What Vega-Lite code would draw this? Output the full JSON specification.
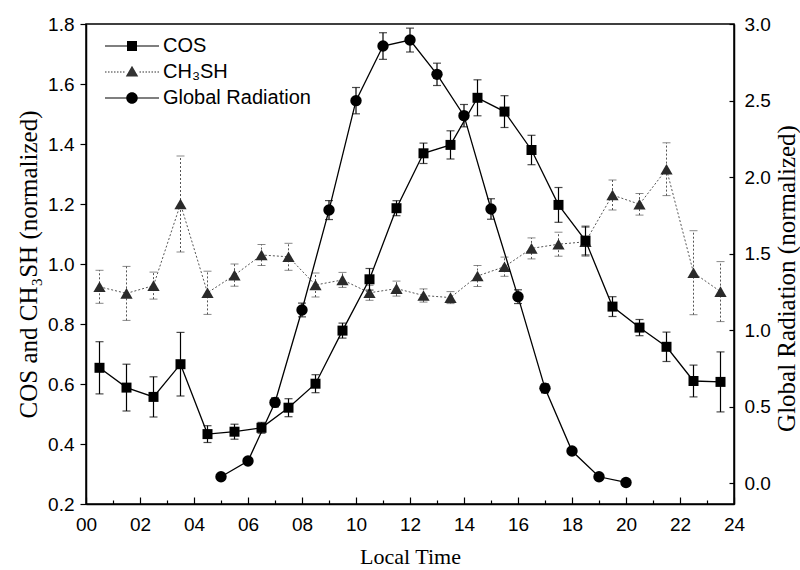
{
  "$schema": "https://vega.github.io/schema/vega-lite/v6.json",
  "width": 648,
  "height": 480,
  "autosize": "none",
  "padding": {"left": 86, "top": 24, "right": 66, "bottom": 66},
  "background": "white",
  "config": {
    "view": {"stroke": "black", "strokeWidth": 1.5},
    "axis": {
      "grid": false,
      "labelFlush": false,
      "domainColor": "black",
      "domainWidth": 1.5,
      "tickColor": "black",
      "tickWidth": 1.2,
      "labelColor": "black",
      "titleColor": "black",
      "labelFont": "Liberation Sans",
      "labelFontSize": 19,
      "titleFont": "Liberation Serif",
      "titleFontWeight": "normal"
    },
    "legend": {
      "title": null, "orient": "none", "legendX": 36, "legendY": 12, "padding": 0,
      "labelFont": "Liberation Sans", "labelFontSize": 20, "labelColor": "black",
      "labelOffset": 21, "rowPadding": 6, "symbolSize": 100,
      "symbolOpacity": 1, "symbolStrokeWidth": 0
    }
  },
  "datasets": {
    "cos": [
      {"s": "COS", "t": 0.5, "v": 0.654, "e": 0.087},
      {"s": "COS", "t": 1.5, "v": 0.588, "e": 0.078},
      {"s": "COS", "t": 2.5, "v": 0.557, "e": 0.067},
      {"s": "COS", "t": 3.5, "v": 0.666, "e": 0.106},
      {"s": "COS", "t": 4.5, "v": 0.433, "e": 0.028},
      {"s": "COS", "t": 5.5, "v": 0.441, "e": 0.025},
      {"s": "COS", "t": 6.5, "v": 0.454, "e": 0.018},
      {"s": "COS", "t": 7.5, "v": 0.521, "e": 0.03},
      {"s": "COS", "t": 8.5, "v": 0.601, "e": 0.03},
      {"s": "COS", "t": 9.5, "v": 0.778, "e": 0.025},
      {"s": "COS", "t": 10.5, "v": 0.949, "e": 0.036},
      {"s": "COS", "t": 11.5, "v": 1.186, "e": 0.025},
      {"s": "COS", "t": 12.5, "v": 1.369, "e": 0.034},
      {"s": "COS", "t": 13.5, "v": 1.397, "e": 0.047},
      {"s": "COS", "t": 14.5, "v": 1.554, "e": 0.06},
      {"s": "COS", "t": 15.5, "v": 1.508, "e": 0.053},
      {"s": "COS", "t": 16.5, "v": 1.38, "e": 0.049},
      {"s": "COS", "t": 17.5, "v": 1.197, "e": 0.058},
      {"s": "COS", "t": 18.5, "v": 1.078, "e": 0.048},
      {"s": "COS", "t": 19.5, "v": 0.858, "e": 0.033},
      {"s": "COS", "t": 20.5, "v": 0.788, "e": 0.027},
      {"s": "COS", "t": 21.5, "v": 0.724, "e": 0.049},
      {"s": "COS", "t": 22.5, "v": 0.61, "e": 0.053},
      {"s": "COS", "t": 23.5, "v": 0.607, "e": 0.1}
    ],
    "ch3sh": [
      {"s": "CH₃SH", "t": 0.5, "v": 0.924, "e": 0.055},
      {"s": "CH₃SH", "t": 1.5, "v": 0.902, "e": 0.09},
      {"s": "CH₃SH", "t": 2.5, "v": 0.928, "e": 0.045},
      {"s": "CH₃SH", "t": 3.5, "v": 1.2, "e": 0.16},
      {"s": "CH₃SH", "t": 4.5, "v": 0.904, "e": 0.072},
      {"s": "CH₃SH", "t": 5.5, "v": 0.963, "e": 0.037},
      {"s": "CH₃SH", "t": 6.5, "v": 1.03, "e": 0.035},
      {"s": "CH₃SH", "t": 7.5, "v": 1.024, "e": 0.045},
      {"s": "CH₃SH", "t": 8.5, "v": 0.93, "e": 0.04},
      {"s": "CH₃SH", "t": 9.5, "v": 0.947, "e": 0.025},
      {"s": "CH₃SH", "t": 10.5, "v": 0.904, "e": 0.025},
      {"s": "CH₃SH", "t": 11.5, "v": 0.918, "e": 0.025},
      {"s": "CH₃SH", "t": 12.5, "v": 0.895, "e": 0.022},
      {"s": "CH₃SH", "t": 13.5, "v": 0.888, "e": 0.02},
      {"s": "CH₃SH", "t": 14.5, "v": 0.96, "e": 0.035},
      {"s": "CH₃SH", "t": 15.5, "v": 0.991, "e": 0.032},
      {"s": "CH₃SH", "t": 16.5, "v": 1.052, "e": 0.035},
      {"s": "CH₃SH", "t": 17.5, "v": 1.066, "e": 0.04},
      {"s": "CH₃SH", "t": 18.5, "v": 1.074, "e": 0.048},
      {"s": "CH₃SH", "t": 19.5, "v": 1.23, "e": 0.05},
      {"s": "CH₃SH", "t": 20.5, "v": 1.199, "e": 0.036},
      {"s": "CH₃SH", "t": 21.5, "v": 1.316, "e": 0.088},
      {"s": "CH₃SH", "t": 22.5, "v": 0.971, "e": 0.14},
      {"s": "CH₃SH", "t": 23.5, "v": 0.908, "e": 0.1}
    ],
    "rad": [
      {"s": "Global Radiation", "t": 5, "v": 0.041, "e": 0},
      {"s": "Global Radiation", "t": 6, "v": 0.144, "e": 0},
      {"s": "Global Radiation", "t": 7, "v": 0.527, "e": 0.03},
      {"s": "Global Radiation", "t": 8, "v": 1.131, "e": 0.045},
      {"s": "Global Radiation", "t": 9, "v": 1.784, "e": 0.062},
      {"s": "Global Radiation", "t": 10, "v": 2.499, "e": 0.086},
      {"s": "Global Radiation", "t": 11, "v": 2.856, "e": 0.087},
      {"s": "Global Radiation", "t": 12, "v": 2.895, "e": 0.078},
      {"s": "Global Radiation", "t": 13, "v": 2.671, "e": 0.073},
      {"s": "Global Radiation", "t": 14, "v": 2.401, "e": 0.073},
      {"s": "Global Radiation", "t": 15, "v": 1.791, "e": 0.067},
      {"s": "Global Radiation", "t": 16, "v": 1.218, "e": 0.045},
      {"s": "Global Radiation", "t": 17, "v": 0.619, "e": 0.03},
      {"s": "Global Radiation", "t": 18, "v": 0.209, "e": 0},
      {"s": "Global Radiation", "t": 19, "v": 0.041, "e": 0},
      {"s": "Global Radiation", "t": 20, "v": 0.004, "e": 0}
    ]
  },
  "encoding": {
    "x": {
      "field": "t",
      "type": "quantitative",
      "scale": {"domain": [0, 24], "nice": false, "zero": false},
      "axis": {
        "values": [0,1,2,3,4,5,6,7,8,9,10,11,12,13,14,15,16,17,18,19,20,21,22,23,24],
        "labelExpr": "datum.value % 2 ? '' : (datum.value < 10 ? '0' + datum.value : '' + datum.value)",
        "tickSize": {"condition": {"test": "datum.value % 2 === 1", "value": -4}, "value": -7},
        "labelPadding": 18,
        "title": "Local Time",
        "titleFontSize": 22,
        "titlePadding": 12
      }
    }
  },
  "layer": [
    {
      "encoding": {
        "y": {
          "field": "v",
          "type": "quantitative",
          "scale": {"domain": [0.2, 1.8], "nice": false, "zero": false},
          "axis": {
            "values": [0.2, 0.4, 0.6, 0.8, 1.0, 1.2, 1.4, 1.6, 1.8],
            "format": ".1f",
            "tickSize": 6,
            "labelPadding": 6,
            "title": "COS and CH₃SH (normalized)",
            "titleFontSize": 25,
            "titlePadding": 6
          }
        }
      },
      "layer": [
        {
          "data": {"name": "ch3sh"},
          "mark": {"type": "errorbar", "color": "#555555", "thickness": 1, "ticks": {"size": 8, "strokeDash": [2, 1]}, "rule": {"strokeDash": [2, 2]}},
          "encoding": {"yError": {"field": "e"}}
        },
        {
          "data": {"name": "ch3sh"},
          "mark": {"type": "line", "color": "#555555", "strokeWidth": 1, "strokeDash": [2, 2]}
        },
        {
          "data": {"name": "ch3sh"},
          "mark": {"type": "point", "shape": "triangle-up", "filled": true, "opacity": 1, "size": 150, "color": "#2a2a2a"}
        },
        {
          "data": {"name": "cos"},
          "mark": {"type": "errorbar", "color": "black", "thickness": 1.2, "ticks": {"size": 8}},
          "encoding": {"yError": {"field": "e"}}
        },
        {
          "data": {"name": "cos"},
          "mark": {"type": "line", "color": "black", "strokeWidth": 1.3}
        },
        {
          "data": {"name": "cos"},
          "mark": {"type": "point", "shape": "square", "filled": true, "opacity": 1, "size": 100, "color": "black"}
        }
      ]
    },
    {
      "encoding": {
        "y": {
          "field": "v",
          "type": "quantitative",
          "scale": {"domain": [-0.137, 3.0], "nice": false, "zero": false},
          "axis": {
            "orient": "right",
            "values": [0, 0.5, 1.0, 1.5, 2.0, 2.5, 3.0],
            "format": ".1f",
            "tickSize": -5,
            "labelPadding": 15,
            "title": "Global Radiation (normalized)",
            "titleFontSize": 25,
            "titleAngle": 270,
            "titleBaseline": "top",
            "titlePadding": 4,
            "titleY": 254
          }
        }
      },
      "layer": [
        {
          "data": {"name": "rad"},
          "mark": {"type": "errorbar", "color": "black", "thickness": 1.2, "ticks": {"size": 8}},
          "encoding": {"yError": {"field": "e"}}
        },
        {
          "data": {"name": "rad"},
          "mark": {"type": "line", "color": "black", "strokeWidth": 1.3}
        },
        {
          "data": {"name": "rad"},
          "mark": {"type": "point", "shape": "circle", "filled": true, "opacity": 1, "size": 130, "color": "black"}
        },
        {
          "data": {"name": "rad"},
          "mark": {"type": "point", "filled": true, "opacity": 0, "size": 100},
          "encoding": {
            "shape": {
              "field": "s", "type": "nominal",
              "scale": {
                "domain": ["COS", "CH₃SH", "Global Radiation"],
                "range": [
                  "M-5.4,-0.12H5.4V0.12H-5.4ZM-1,-1H1V1H-1Z",
                  "M-5.4,-0.1h0.3v0.2h-0.3zM-4.8,-0.1h0.3v0.2h-0.3zM-4.2,-0.1h0.3v0.2h-0.3zM-3.6,-0.1h0.3v0.2h-0.3zM-3,-0.1h0.3v0.2h-0.3zM-2.4,-0.1h0.3v0.2h-0.3zM-1.8,-0.1h0.3v0.2h-0.3zM1.5,-0.1h0.3v0.2h-0.3zM2.1,-0.1h0.3v0.2h-0.3zM2.7,-0.1h0.3v0.2h-0.3zM3.3,-0.1h0.3v0.2h-0.3zM3.9,-0.1h0.3v0.2h-0.3zM4.5,-0.1h0.3v0.2h-0.3zM5.1,-0.1h0.3v0.2h-0.3zM0,-1.25L1.25,0.9L-1.25,0.9Z",
                  "M-5.4,-0.12H5.4V0.12H-5.4ZM1.15,0A1.15,1.15,0,1,1,-1.15,0A1.15,1.15,0,1,1,1.15,0Z"
                ]
              },
              "legend": {"title": null}
            },
            "color": {
              "field": "s", "type": "nominal",
              "scale": {"domain": ["COS", "CH₃SH", "Global Radiation"], "range": ["black", "#333333", "black"]},
              "legend": {"title": null}
            }
          }
        }
      ]
    }
  ],
  "resolve": {"scale": {"y": "independent"}}
}
